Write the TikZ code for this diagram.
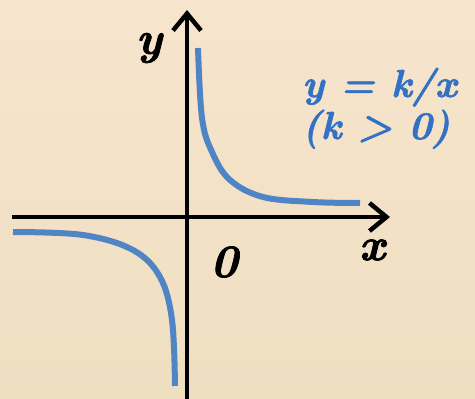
\documentclass[tikz,border=0pt]{standalone}
\usepackage{fontspec}
\usetikzlibrary{arrows.meta}
\newfontfamily\heavyit{lmroman10-bolditalic.otf}[FakeBold=1.6]
\definecolor{bgtop}{HTML}{F7E4CD}
\definecolor{bgbot}{HTML}{EEDFC1}
\definecolor{curveblue}{HTML}{4F85C4}
\definecolor{textblue}{HTML}{3271C4}
\tikzset{
  axis/.style={line width=4.5pt, -{Straight Barb[length=17pt,width=28pt,line width=4.5pt]}},
  branch/.style={curveblue, line width=6pt, smooth, tension=0.6},
  axlabel/.style={font=\fontsize{46}{50}\selectfont\heavyit, inner sep=0pt},
  fnlabel/.style={font=\fontsize{39}{44}\selectfont\heavyit, text=textblue, inner sep=0pt, anchor=base west}
}
\begin{document}
\begin{tikzpicture}[x=1pt,y=-1pt]
\shade[top color=bgtop, bottom color=bgbot] (0,0) rectangle (475,399);
\useasboundingbox (0,0) rectangle (475,399);
\coordinate (xstart) at (12,217);
\coordinate (xend) at (390,217);
\coordinate (ystart) at (187,402);
\coordinate (yend) at (187,10);
\draw[axis] (xstart) -- (xend);
\draw[axis] (ystart) -- (yend);
\draw[branch] plot coordinates {(198,48) (202,118) (212,152) (230,180) (263,197) (313,202) (360,203)};
\draw[branch] plot coordinates {(13,232) (83,235) (133,250) (160,277) (172,320) (175,386)};
\node[axlabel] (ylab) at (149,48) {y};
\node[axlabel] (xlab) at (372,250) {x};
\node[axlabel] (olab) at (224,262) {0};
\node[fnlabel] (fn) at (302,97) {y = k/x};
\node[fnlabel] (cond) at (302,139) {(k > 0)};
\end{tikzpicture}
\end{document}
